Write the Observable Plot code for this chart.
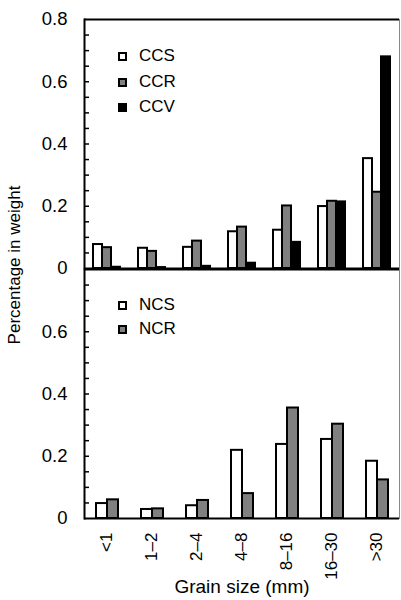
<!DOCTYPE html>
<html><head><meta charset="utf-8">
<script src="https://cdn.jsdelivr.net/npm/d3@7"></script>
<script src="https://cdn.jsdelivr.net/npm/@observablehq/plot@0.6"></script>
<style>
body{margin:0;background:#fff;font-family:"Liberation Sans",Arial,sans-serif;color:#000;}
#wrap{position:relative;width:401px;height:600px;overflow:hidden;background:#fff;}
#top,#bottom{position:absolute;left:0;}
#top{top:0}
#bottom{top:268px}
#top svg,#bottom svg{display:block;overflow:visible;background:transparent;}
.ylabel{position:absolute;left:15px;top:265px;transform:translate(-50%,-50%) rotate(-90deg);white-space:nowrap;font-size:17px;}
.legend{position:absolute;left:118px;font-size:17px;}
.legend .row{position:absolute;left:0;height:20px;white-space:nowrap;}
.legend .sw{position:absolute;left:0;top:6px;width:9px;height:9px;box-sizing:border-box;border:2px solid #000;}
.legend .tx{position:absolute;left:21px;top:0;line-height:20px;}
</style></head><body>
<div id="wrap">
  <div id="top"></div>
  <div id="bottom"></div>
  <div class="ylabel">Percentage in weight</div>
  <div class="legend" id="legTop" style="top:46px"></div>
  <div class="legend" id="legBottom" style="top:295px"></div>
</div>
<script>
// ---- data ----
const categories = ["<1", "1–2", "2–4", "4–8", "8–16", "16–30", ">30"];
const topSeries = ["CCS", "CCR", "CCV"];
const ccs = [0.077, 0.065, 0.068, 0.118, 0.123, 0.199, 0.353];
const ccr = [0.067, 0.055, 0.088, 0.133, 0.201, 0.216, 0.245];
const ccv = [0.004, 0.003, 0.007, 0.017, 0.084, 0.214, 0.680];
const bottomSeries = ["NCS", "NCR"];
const ncs = [0.048, 0.029, 0.041, 0.219, 0.238, 0.254, 0.184];
const ncr = [0.060, 0.031, 0.058, 0.080, 0.355, 0.303, 0.124];
const topFills = ["#ffffff", "#808080", "#000000"];
const bottomFills = ["#ffffff", "#808080"];
const yTopLabels = [0, 0.2, 0.4, 0.6, 0.8];
const yBottomLabels = [0, 0.2, 0.4, 0.6];
const yMinorTicks = [0.05, 0.1, 0.15, 0.2, 0.25, 0.3, 0.35, 0.4, 0.45, 0.5, 0.55, 0.6, 0.65, 0.7, 0.75];

const font = {fontFamily: "'Liberation Sans', Arial, sans-serif", fontSize: "17px", background: "transparent", overflow: "visible", color: "#000"};

function table(series, values) {
  return series.flatMap((s, j) => categories.map((c, i) => ({cat: c, series: s, value: values[j][i]})));
}

function panel(series, values, fills, labels, opts) {
  const data = table(series, values);
  const marks = [
    Plot.barY(data, {fx: "cat", x: "series", y: "value", fill: "series", stroke: "#000", strokeWidth: 2}),
    Plot.ruleY([0, 0.8], {stroke: "#000", strokeWidth: 2}),
    Plot.frame({anchor: "left", facetAnchor: "left", stroke: "#000", strokeWidth: 2}),
    Plot.frame({anchor: "right", facetAnchor: "right", stroke: "#888", strokeWidth: 1}),
    Plot.axisY({ticks: yMinorTicks, tickSize: 4, dx: 5, strokeWidth: 1.5, tickFormat: () => "", label: null}),
    Plot.axisY({ticks: labels, tickSize: 0, tickPadding: 17, tickFormat: d => d === 0 ? "0" : String(d), fontSize: 18.5, label: null})
  ];
  if (opts.fxAxis) {
    marks.push(Plot.axisFx({anchor: "bottom", tickRotate: -90, tickSize: 0, tickPadding: 14, fontSize: 17, label: null}));
    marks.push(Plot.axisFx({anchor: "bottom", tickSize: 0, ticks: [], fontSize: 19,
      label: "Grain size (mm)", labelAnchor: "center", labelOffset: 74}));
  }
  return Plot.plot({
    width: 401, height: opts.height,
    marginTop: opts.marginTop, marginBottom: opts.marginBottom, marginLeft: 82, marginRight: 1,
    style: font,
    fx: {domain: categories, padding: 0, axis: null, label: null},
    x: {domain: series, paddingInner: 0, paddingOuter: opts.outer, axis: null},
    y: {domain: [0, 0.8], axis: null},
    color: {domain: series, range: fills},
    marks
  });
}

document.getElementById("top").append(panel(topSeries, [ccs, ccr, ccv], topFills, yTopLabels,
  {height: 268, marginTop: 19, marginBottom: 0, outer: 0.89, fxAxis: false}));
document.getElementById("bottom").append(panel(bottomSeries, [ncs, ncr], bottomFills, yBottomLabels,
  {height: 332, marginTop: 1, marginBottom: 82, outer: 0.95, fxAxis: true}));

function legend(el, series, fills, gap) {
  series.forEach((s, i) => {
    const row = document.createElement("div");
    row.className = "row";
    row.style.top = (i * gap) + "px";
    const sw = document.createElement("span");
    sw.className = "sw";
    sw.style.background = fills[i];
    const tx = document.createElement("span");
    tx.className = "tx";
    tx.textContent = s;
    row.append(sw, tx);
    el.append(row);
  });
}
legend(document.getElementById("legTop"), topSeries, topFills, 25.5);
legend(document.getElementById("legBottom"), bottomSeries, bottomFills, 24);
</script>
</body></html>
